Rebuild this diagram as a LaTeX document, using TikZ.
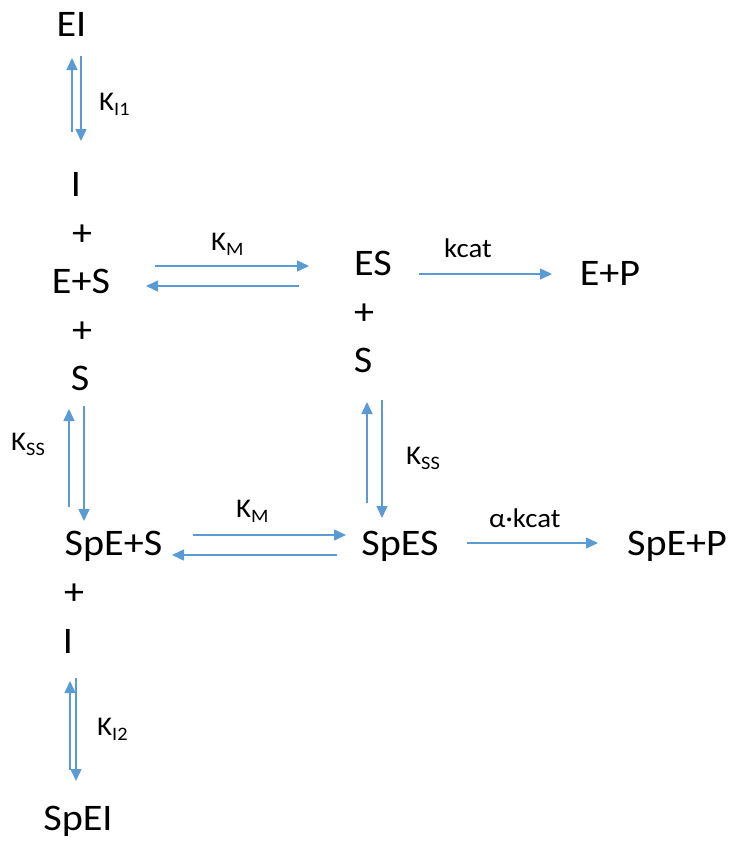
\documentclass[tikz,border=0pt]{standalone}
\usepackage{fontspec}
\setmainfont{Carlito}[FakeStretch=1.07]
\usetikzlibrary{arrows.meta}
\definecolor{arr}{HTML}{5B9BD5}
\newcommand\lowidx[1]{\raisebox{-5pt}{\fontsize{19}{21}\selectfont #1}}
\tikzset{
 species/.style={anchor=base, inner sep=0pt, font=\fontsize{37.5}{40}\selectfont},
 rate/.style={anchor=base west, inner sep=0pt, font=\fontsize{27}{30}\selectfont},
 flow/.style={draw=arr, line width=1.5pt, -{Triangle[length=12pt,width=11pt]}},
}
\begin{document}
\begin{tikzpicture}[x=1pt,y=-1pt]
\useasboundingbox (0,0) rectangle (729,841);
% species
\node[species] (EI) at (71.5,36) {EI};
\node[species] (I1) at (76,196) {I};
\node[species] (p1) at (82,245) {+};
\node[species] (ESfree) at (81,293) {E+S};
\node[species] (p2) at (82,342) {+};
\node[species] (S1) at (80,390) {S};
\node[species] (ES) at (373,275) {ES};
\node[species] (p3) at (364,324) {+};
\node[species] (S2) at (363,372) {S};
\node[species] (EP) at (610,285) {E+P};
\node[species] (SpESfree) at (113.5,555) {SpE+S};
\node[species] (p4) at (74,604) {+};
\node[species] (I2) at (68,653) {I};
\node[species] (SpES) at (400,555) {SpES};
\node[species] (SpEP) at (677,555) {SpE+P};
\node[species] (SpEI) at (78,830) {SpEI};
% arrow endpoints
\coordinate (a1s) at (72,132); \coordinate (a1e) at (72,58);
\coordinate (a2s) at (81,56);  \coordinate (a2e) at (81,141);
\coordinate (b1s) at (155,266); \coordinate (b1e) at (309,266);
\coordinate (b2s) at (299,286); \coordinate (b2e) at (146,286);
\coordinate (c1s) at (419,274); \coordinate (c1e) at (552,274);
\coordinate (d1s) at (69,507);  \coordinate (d1e) at (69,409);
\coordinate (d2s) at (84,406);  \coordinate (d2e) at (84,521);
\coordinate (e1s) at (367,503); \coordinate (e1e) at (367,402);
\coordinate (e2s) at (382,400); \coordinate (e2e) at (382,518);
\coordinate (f1s) at (193,535); \coordinate (f1e) at (346,535);
\coordinate (f2s) at (337,555); \coordinate (f2e) at (172,555);
\coordinate (g1s) at (467,543); \coordinate (g1e) at (598,543);
\coordinate (h1s) at (70,770);  \coordinate (h1e) at (70,681);
\coordinate (h2s) at (76,678);  \coordinate (h2e) at (76,781);
\draw[flow] (a1s) -- (a1e);
\draw[flow] (a2s) -- (a2e);
\draw[flow] (b1s) -- (b1e);
\draw[flow] (b2s) -- (b2e);
\draw[flow] (c1s) -- (c1e);
\draw[flow] (d1s) -- (d1e);
\draw[flow] (d2s) -- (d2e);
\draw[flow] (e1s) -- (e1e);
\draw[flow] (e2s) -- (e2e);
\draw[flow] (f1s) -- (f1e);
\draw[flow] (f2s) -- (f2e);
\draw[flow] (g1s) -- (g1e);
\draw[flow] (h1s) -- (h1e);
\draw[flow] (h2s) -- (h2e);
% rate labels
\node[rate] (kI1) at (99,110) {K\lowidx{I1}};
\node[rate] (kM1) at (211,250) {K\lowidx{M}};
\node[rate] (kcat) at (444,257) {kcat};
\node[rate] (kSS1) at (11,450) {K\lowidx{SS}};
\node[rate] (kSS2) at (406,464) {K\lowidx{SS}};
\node[rate] (kM2) at (236,517) {K\lowidx{M}};
\node[rate] (akcat) at (489,527) {α·kcat};
\node[rate] (kI2) at (97,735) {K\lowidx{I2}};
\end{tikzpicture}
\end{document}
